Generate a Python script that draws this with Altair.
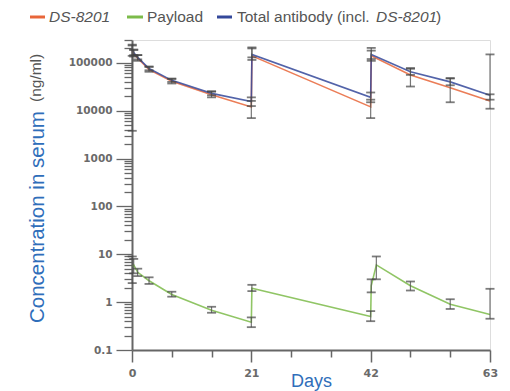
import altair as alt
import pandas as pd

# ---------------- data ----------------
series_names = ["DS-8201", "Total antibody (incl. DS-8201)", "Payload"]
series_colors = ["#e8663a", "#34489a", "#7cbb4a"]

days_ab = [0.04, 0.3, 1, 3, 7, 14, 21, 21.1, 42, 42.1, 49, 56, 63]

ds_val = [175000, 155000, 125000, 72000, 41000, 21500, 12000, 140000, 12000, 140000, 56000, 30000, 16000]
ds_lo = [140000, 135000, 110000, 65000, 37000, 19000, 7000, 115000, 7000, 110000, 32000, 15000, 11000]
ds_hi = [230000, 185000, 145000, 82000, 46000, 25000, 16000, 200000, 17000, 180000, 78000, 48000, 22000]

tab_val = [185000, 165000, 130000, 76000, 43000, 23000, 15500, 150000, 19000, 150000, 65000, 40000, 21000]
tab_lo = [3800, 145000, 118000, 70000, 40000, 21000, 12500, 130000, 15000, 120000, 56000, 34000, 17000]
tab_hi = [240000, 190000, 145000, 84000, 47000, 25500, 19000, 210000, 24000, 205000, 75000, 47000, 150000]

days_pl = [0.04, 0.3, 1, 3, 7, 14, 21, 21.1, 42, 42.1, 43, 49, 56, 63]
pl_val = [5.5, 6.0, 4.2, 2.8, 1.45, 0.68, 0.38, 1.95, 0.5, 2.2, 6.0, 2.2, 0.9, 0.55]
pl_lo = [2.5, 4.0, 3.5, 2.4, 1.3, 0.6, 0.30, 1.7, 0.4, 1.6, 3.0, 1.75, 0.72, 0.45]
pl_hi = [9.0, 8.0, 5.0, 3.3, 1.65, 0.8, 0.48, 2.3, 0.65, 3.0, 9.0, 2.7, 1.15, 1.9]

x_tick_values = [0, 7, 14, 21, 28, 35, 42, 49, 56, 63]
y_decades = [0.1, 1, 10, 100, 1000, 10000]
y_tick_values = [d * k for d in y_decades for k in range(1, 10)] + [100000, 200000, 300000]

rows = []
for name, days, vals, los, his in [
    ("DS-8201", days_ab, ds_val, ds_lo, ds_hi),
    ("Total antibody (incl. DS-8201)", days_ab, tab_val, tab_lo, tab_hi),
    ("Payload", days_pl, pl_val, pl_lo, pl_hi),
]:
    for i, (d, v, l, h) in enumerate(zip(days, vals, los, his)):
        rows.append({"series": name, "day": d, "value": v, "lo": l, "hi": h, "idx": i})
df = pd.DataFrame(rows)

# ---------------- scales / axes ----------------
W, H = 358, 310
is_major_y = "abs(log(datum.value)/LN10 - round(log(datum.value)/LN10)) < 0.001"
is_major_x = "datum.value % 21 == 0"

x_scale = alt.Scale(domain=[0, 63], nice=False)
y_scale = alt.Scale(type="log", domain=[0.1, 300000], nice=False)

x_axis = alt.Axis(
    values=x_tick_values, title="Days", titleColor="#2f6eba", titleFontSize=18,
    titleFont="Liberation Sans", titleFontWeight="normal", titleY=36, titleBaseline="alphabetic",
    labelExpr=f"{is_major_x} ? datum.label : ''", labelFont="DejaVu Sans", labelFontWeight="bold",
    labelFontSize=11, labelColor="#6a6a6a", labelPadding=5, labelOverlap=False, labelFlush=False,
    tickSize={"condition": {"test": is_major_x, "value": 12}, "value": 7},
    tickColor="#666", tickWidth=1.5, domainColor="#666", domainWidth=2, grid=False,
)
y_axis = alt.Axis(
    values=y_tick_values, title="", format="~g",
    labelExpr=f"{is_major_y} ? datum.label : ''", labelFont="DejaVu Sans", labelFontWeight="bold",
    labelFontSize=10.5, labelColor="#6a6a6a", labelPadding=4, labelOverlap=False,
    tickSize={"condition": {"test": is_major_y, "value": 16}, "value": 8},
    tickColor="#666", tickWidth=1.3, domainColor="#666", domainWidth=2, grid=False,
)

color = alt.Color("series:N", scale=alt.Scale(domain=series_names, range=series_colors), legend=None)

base = alt.Chart(df)
X = alt.X("day:Q", scale=x_scale, axis=x_axis)

lines = base.mark_line(strokeWidth=1.6, opacity=0.85).encode(
    x=X,
    y=alt.Y("value:Q", scale=y_scale, axis=y_axis),
    color=color,
    detail="series:N",
    order="idx:Q",
)

whisk = base.mark_rule(color="#555", strokeWidth=1.2, opacity=0.8).encode(
    x=X, y=alt.Y("lo:Q", scale=y_scale, axis=y_axis), y2="hi:Q"
)
cap_lo = base.mark_tick(color="#444", orient="horizontal", size=9, thickness=1.8).encode(
    x=X, y=alt.Y("lo:Q", scale=y_scale, axis=y_axis)
)
cap_hi = base.mark_tick(color="#444", orient="horizontal", size=9, thickness=1.8).encode(
    x=X, y=alt.Y("hi:Q", scale=y_scale, axis=y_axis)
)

# ---------------- manual legend and y title (mixed styles) ----------------
one = pd.DataFrame({"a": [0]})
ly = -23


def seg(x1, x2, col):
    return alt.Chart(one).mark_rule(color=col, strokeWidth=3).encode(
        x=alt.value(x1), x2=alt.value(x2), y=alt.value(ly)
    )


def txt(x, s, style="normal", size=15.5, col="#555", y=ly, angle=0, font="Liberation Sans"):
    return alt.Chart(one).mark_text(
        text=s, align="left", baseline="middle", fontSize=size, fontStyle=style,
        color=col, font=font, angle=angle,
    ).encode(x=alt.value(x), y=alt.value(y))


legend = [
    seg(-102, -87, series_colors[0]),
    txt(-83, "DS-8201", "italic"),
    seg(-5, 11, series_colors[2]),
    txt(15, "Payload"),
    seg(85, 100, series_colors[1]),
    txt(105, "Total antibody (incl. "),
    txt(244, "DS-8201", "italic"),
    txt(304, ")"),
]
ytitle = [
    txt(-94, "Concentration in serum", size=20.5, col="#2f6eba", y=283, angle=270),
    txt(-96, "(ng/ml)", size=15.5, col="#555", y=62, angle=270),
]

chart = alt.layer(lines, whisk, cap_lo, cap_hi, *legend, *ytitle).properties(
    width=W, height=H,
    autosize=alt.AutoSizeParams(type="none"),
    padding={"left": 132, "top": 40, "right": 20, "bottom": 41},
).configure_view(stroke=None).configure_axis(labelOverlap=False).configure(background="white")

chart.save("out.html", embed_options={"renderer": "svg", "actions": False})
